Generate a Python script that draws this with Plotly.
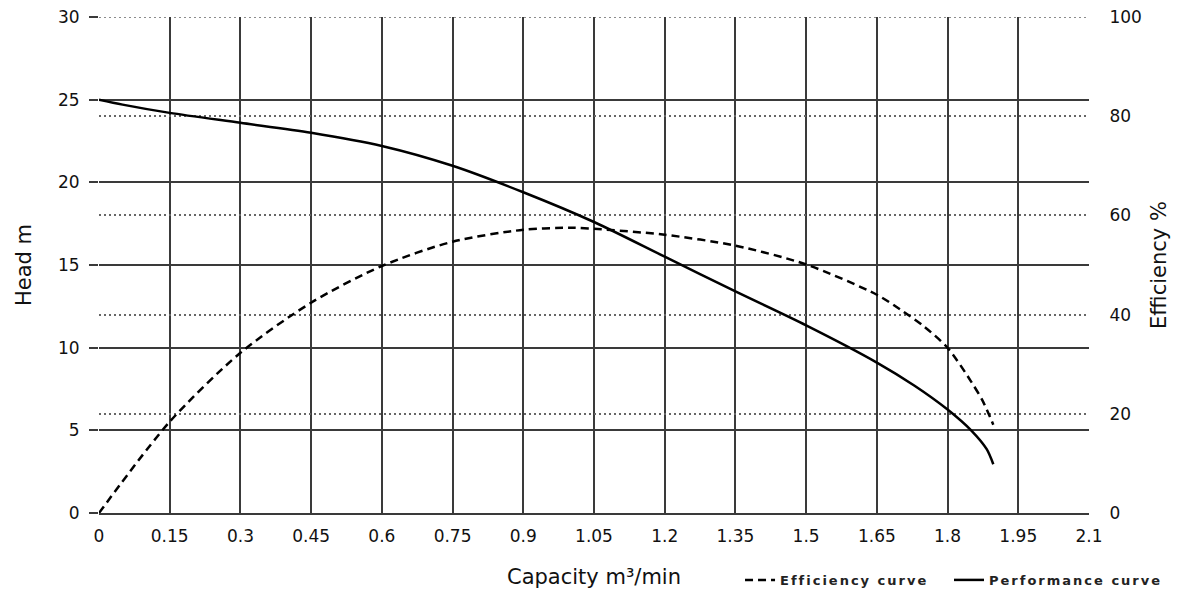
import plotly.graph_objects as go

# ---- data ----
perf_capacity = [0, 0.05, 0.15, 0.3, 0.45, 0.6, 0.75, 0.9, 1.05, 1.2, 1.35, 1.5, 1.65, 1.73, 1.8, 1.85, 1.883, 1.897]
perf_head = [25.0, 24.7, 24.2, 23.6, 23.0, 22.2, 21.0, 19.4, 17.6, 15.5, 13.4, 11.35, 9.1, 7.7, 6.26, 5.0, 3.86, 2.95]

eff_capacity = [0, 0.15, 0.3, 0.45, 0.6, 0.75, 0.9, 1.0, 1.05, 1.2, 1.35, 1.5, 1.65, 1.7, 1.75, 1.8, 1.85, 1.875, 1.897]
eff_percent = [0, 18.4, 32.3, 42.4, 49.8, 54.7, 57.1, 57.5, 57.3, 56.1, 53.9, 50.1, 44.0, 41.0, 37.6, 33.3, 26.5, 22.5, 17.8]

x_ticks = [0, 0.15, 0.3, 0.45, 0.6, 0.75, 0.9, 1.05, 1.2, 1.35, 1.5, 1.65, 1.8, 1.95, 2.1]
x_ticklabels = ["0", "0.15", "0.3", "0.45", "0.6", "0.75", "0.9", "1.05", "1.2", "1.35", "1.5", "1.65", "1.8", "1.95", "2.1"]
head_ticks = [0, 5, 10, 15, 20, 25, 30]
eff_ticks = [0, 20, 40, 60, 80, 100]

GRID = "#3a3a3a"
FONT = "DejaVu Sans, Liberation Sans, sans-serif"

fig = go.Figure()
fig.add_trace(go.Scatter(
    x=eff_capacity, y=eff_percent, yaxis="y2", mode="lines",
    name="Efficiency curve", line=dict(color="black", width=2.5, dash="8px,5px", shape="spline", smoothing=0.8),
))
fig.add_trace(go.Scatter(
    x=perf_capacity, y=perf_head, mode="lines",
    name="Performance curve", line=dict(color="black", width=2.5, shape="spline", smoothing=0.8),
))

# dotted top border at 100 % efficiency
fig.add_shape(type="line", xref="x", yref="y2", x0=0, x1=2.1, y0=100, y1=100,
              line=dict(color="#666", width=1.5, dash="2px,3px"), layer="below")

fig.update_layout(
    width=1178, height=589,
    margin=dict(l=99, r=89, t=17, b=76, autoexpand=False),
    paper_bgcolor="white", plot_bgcolor="white",
    font=dict(family=FONT, size=17, color="#111"),
    xaxis=dict(
        range=[0, 2.1], tickvals=x_ticks, ticktext=x_ticklabels, automargin=False,
        showgrid=True, gridcolor=GRID, gridwidth=1.5,
        showline=True, linecolor=GRID, linewidth=2,
        zeroline=False, ticks="outside", ticklen=7, tickcolor="rgba(0,0,0,0)",
        title=dict(text="Capacity m³/min", font=dict(size=21), standoff=24),
        tickfont=dict(size=17),
    ),
    yaxis=dict(
        range=[0, 30], tickvals=head_ticks, automargin=False,
        showgrid=True, gridcolor=GRID, gridwidth=1.5,
        showline=False, zeroline=False,
        ticks="outside", ticklen=9, tickcolor=GRID, tickwidth=1.5, ticklabelstandoff=6,
        title=dict(text="Head m", font=dict(size=21), standoff=20),
        tickfont=dict(size=17),
    ),
    yaxis2=dict(
        range=[0, 100], tickvals=eff_ticks, overlaying="y", side="right", automargin=False,
        showgrid=True, gridcolor="#666", gridwidth=1.5, griddash="2px,3px",
        showline=False, zeroline=False, ticks="outside", ticklen=16, tickcolor="rgba(0,0,0,0)",
        title=dict(text="Efficiency %", font=dict(size=21), standoff=10),
        tickfont=dict(size=17),
    ),
    legend=dict(
        orientation="h", x=0.6475, xanchor="left", y=-0.135, yanchor="middle",
        font=dict(family="DejaVu Sans, sans-serif", size=13, color="#222", weight="bold"),
        bgcolor="rgba(0,0,0,0)", itemwidth=30, traceorder="normal",
        entrywidth=164, entrywidthmode="pixels",
    ),
    showlegend=True,
)

post = (
    "document.body.style.margin='0';document.body.style.overflow='hidden';"
    "function ls(){"
    "document.querySelectorAll('.legendtext').forEach(function(t){t.style.letterSpacing='2px';});"
    "document.querySelectorAll('.legend .scrollbox, .legend').forEach(function(g){g.removeAttribute('clip-path');});"
    "}"
    "ls();setTimeout(ls,50);setTimeout(ls,300);"
)
fig.write_html("out.html", post_script=post, config={"displayModeBar": False})
